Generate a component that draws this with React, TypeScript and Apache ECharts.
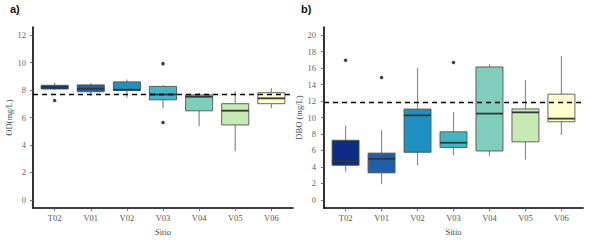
import React, { useEffect, useRef } from "react";
import * as echarts from "echarts";

const categories = ["T02", "V01", "V02", "V03", "V04", "V05", "V06"];
const colors = ["#0c2c84", "#225ea8", "#1d91c0", "#41b6c4", "#7fcdbb", "#c7e9b4", "#ffffcc"];

// OD (mg/L)
const odMin = [8.0, 7.58, 7.45, 6.67, 5.37, 3.54, 6.67];
const odQ1 = [8.08, 7.88, 7.97, 7.29, 6.49, 5.46, 7.01];
const odMed = [8.2, 8.1, 8.03, 7.68, 7.52, 6.5, 7.4];
const odQ3 = [8.35, 8.38, 8.6, 8.27, 7.65, 7.01, 7.81];
const odMax = [8.56, 8.5, 8.78, 8.38, 7.8, 7.92, 8.15];
const odOutlierSite = ["T02", "V03", "V03"];
const odOutlierValue = [7.24, 9.93, 5.64];
const odLimit = 7.7;
const odTicks = [0, 2, 4, 6, 8, 10, 12];

// DBO (mg/L)
const dboMin = [3.45, 1.9, 4.2, 5.42, 5.3, 4.9, 7.89];
const dboQ1 = [4.2, 3.28, 5.78, 6.37, 5.94, 7.05, 9.49];
const dboMed = [4.7, 4.98, 10.27, 6.94, 10.48, 10.63, 9.87];
const dboQ3 = [7.24, 5.68, 11.03, 8.27, 16.15, 11.05, 12.84];
const dboMax = [9.0, 8.46, 16.0, 10.67, 16.46, 14.56, 17.49];
const dboOutlierSite = ["T02", "V01", "V03"];
const dboOutlierValue = [16.96, 14.86, 16.7];
const dboLimit = 11.9;
const dboTicks = [0, 2, 4, 6, 8, 10, 12, 14, 16, 18, 20];

const serif = "Liberation Serif";
const catPos = categories.map((_, i) => i + 1);

function boxData(mn: number[], q1: number[], md: number[], q3: number[], mx: number[]) {
  return categories.map((_, i) => ({
    value: [i + 1, mn[i], q1[i], md[i], q3[i], mx[i]],
    itemStyle: { color: colors[i] },
  }));
}

function renderBox(params: any, api: any) {
  const x = api.value(0);
  const pMin = api.coord([x, api.value(1)]);
  const pQ1 = api.coord([x, api.value(2)]);
  const pMed = api.coord([x, api.value(3)]);
  const pQ3 = api.coord([x, api.value(4)]);
  const pMax = api.coord([x, api.value(5)]);
  const half = api.size([0.75, 0])[0] / 2;
  const fill = api.visual("color");
  const cx = pMed[0];
  return {
    type: "group",
    children: [
      { type: "line", shape: { x1: cx, y1: pQ3[1], x2: cx, y2: pMax[1] }, style: { stroke: "#8c8c8c", lineWidth: 1.2 } },
      { type: "line", shape: { x1: cx, y1: pQ1[1], x2: cx, y2: pMin[1] }, style: { stroke: "#8c8c8c", lineWidth: 1.2 } },
      {
        type: "rect",
        shape: { x: cx - half, y: pQ3[1], width: half * 2, height: pQ1[1] - pQ3[1] },
        style: { fill, stroke: "#555", lineWidth: 0.9 },
      },
      { type: "line", shape: { x1: cx - half, y1: pMed[1], x2: cx + half, y2: pMed[1] }, style: { stroke: "#2f3a36", lineWidth: 1.8 } },
    ],
  };
}

function panel(
  idx: number,
  yName: string,
  yMin: number,
  yMax: number,
  ticks: number[],
  nameGap: number,
  labelMargin: number
) {
  const xAxis = {
    type: "value",
    gridIndex: idx,
    min: 0.4,
    max: 7.6,
    name: "Sitio",
    nameLocation: "middle",
    nameGap: 11,
    nameTextStyle: { fontFamily: serif, fontSize: 8.5, color: "#444" },
    axisLine: { show: true, onZero: false, lineStyle: { color: "#000", width: 1.6 } },
    axisTick: { show: true, customValues: catPos, length: 3, lineStyle: { color: "#555", width: 0.8 } },
    axisLabel: {
      show: true,
      customValues: catPos,
      margin: 5,
      fontFamily: serif,
      fontSize: 8.5,
      color: "#555",
      formatter: (v: number) => categories[Math.round(v) - 1] ?? "",
    },
    splitLine: { show: false },
  };
  const yAxis = {
    type: "value",
    gridIndex: idx,
    min: yMin,
    max: yMax,
    name: yName,
    nameLocation: "middle",
    nameGap,
    nameTextStyle: { fontFamily: serif, fontSize: 8.5, color: "#444" },
    axisLine: { show: true, onZero: false, lineStyle: { color: "#000", width: 1.6 } },
    axisTick: { show: true, customValues: ticks, length: 3, lineStyle: { color: "#555", width: 0.8 } },
    axisLabel: { show: true, customValues: ticks, margin: labelMargin, fontFamily: serif, fontSize: 8.5, color: "#666" },
    splitLine: { show: false },
  };
  return { xAxis, yAxis };
}

export default function App() {
  const ref = useRef<HTMLDivElement>(null);
  useEffect(() => {
    if (!ref.current) return;
    const chart = echarts.init(ref.current, undefined, { renderer: "svg" });
    const p1 = panel(0, "OD(mg/L)", -0.6, 12.6, odTicks, 18, 7);
    const p2 = panel(1, "DBO (mg/L)", -1, 21, dboTicks, 19, 8);
    const markLine = (v: number) => ({
      silent: true,
      symbol: ["none", "none"],
      label: { show: false },
      lineStyle: { color: "#000", type: [5, 4], width: 1.4 },
      data: [{ yAxis: v }],
      z: 10,
    });
    chart.setOption({
      animation: false,
      grid: [
        { left: 33, top: 27, width: 260, height: 192 },
        { left: 324, top: 27, width: 259, height: 192 },
      ],
      xAxis: [p1.xAxis, p2.xAxis],
      yAxis: [p1.yAxis, p2.yAxis],
      graphic: [
        { type: "text", left: 10, top: 3, style: { text: "a)", font: "bold 11px Liberation Sans", fill: "#111" } },
        { type: "text", left: 301, top: 3, style: { text: "b)", font: "bold 11px Liberation Sans", fill: "#111" } },
      ],
      series: [
        {
          type: "custom",
          xAxisIndex: 0,
          yAxisIndex: 0,
          renderItem: renderBox,
          encode: { x: 0, y: [1, 2, 3, 4, 5] },
          data: boxData(odMin, odQ1, odMed, odQ3, odMax),
          z: 2,
        },
        {
          type: "scatter",
          xAxisIndex: 0,
          yAxisIndex: 0,
          symbolSize: 3.5,
          itemStyle: { color: "#111" },
          data: odOutlierSite.map((s, i) => [categories.indexOf(s) + 1, odOutlierValue[i]]),
          markLine: markLine(odLimit),
          z: 5,
        },
        {
          type: "custom",
          xAxisIndex: 1,
          yAxisIndex: 1,
          renderItem: renderBox,
          encode: { x: 0, y: [1, 2, 3, 4, 5] },
          data: boxData(dboMin, dboQ1, dboMed, dboQ3, dboMax),
          z: 2,
        },
        {
          type: "scatter",
          xAxisIndex: 1,
          yAxisIndex: 1,
          symbolSize: 3.5,
          itemStyle: { color: "#111" },
          data: dboOutlierSite.map((s, i) => [categories.indexOf(s) + 1, dboOutlierValue[i]]),
          markLine: markLine(dboLimit),
          z: 5,
        },
      ],
    });
    return () => chart.dispose();
  }, []);
  return <div ref={ref} style={{ width: 589, height: 241, position: "absolute", left: 0, top: 0, background: "#fff" }} />;
}
